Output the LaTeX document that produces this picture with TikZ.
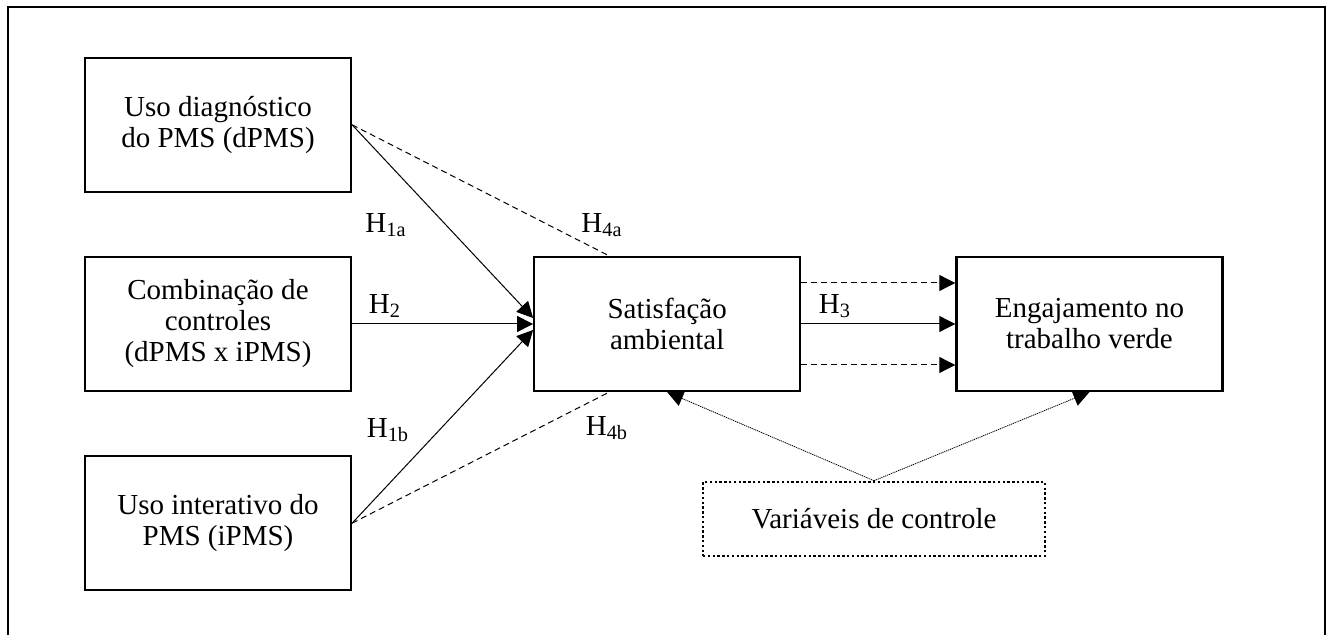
\documentclass[tikz,border=0pt]{standalone}
\usepackage{fontspec}
\setmainfont{Liberation Serif}
\usetikzlibrary{positioning, arrows.meta}

\begin{document}
\begin{tikzpicture}[
    x=0.5pt, y=-0.5pt,
    >={Triangle[length=8pt, width=8pt]},
    font=\fontsize{14.5}{15.5}\selectfont,
    node distance=31.5pt and 90.5pt,
    construct/.style={draw, line width=1.1pt, minimum width=133pt, minimum height=67pt, align=center, inner sep=0pt},
    hyp/.style={->, line width=0.5pt},
    hypdash/.style={line width=0.5pt, dash pattern=on 3pt off 2pt},
    ctrl/.style={->, line width=0.4pt, dash pattern=on 0.6pt off 0.4pt},
    hlabel/.style={inner sep=0pt}
]
    \useasboundingbox (0,0) rectangle (1326,635);

    % --- FRAME ---
    \draw[line width=1pt] (8,635) -- (8,7) -- (1325,7) -- (1325,635);

    % --- CONSTRUCTS ---
    \node[construct] (comb) at (218,324) {Combinação de\\controles\\(dPMS x iPMS)};
    \node[construct, above=of comb] (dpms) {Uso diagnóstico\\do PMS (dPMS)};
    \node[construct, below=of comb] (ipms) {Uso interativo do\\PMS (iPMS)};
    \node[construct, right=of comb] (sat) {Satisfação\\ambiental};
    \node[construct, right=77pt of sat] (eng) {Engajamento no\\trabalho verde};

    \node[draw, line width=1.3pt, dash pattern=on 1.2pt off 1.2pt, minimum width=171pt, minimum height=37pt] (ctrlvars) at (874,519) {Variáveis de controle};

    % --- HYPOTHESES ---
    \draw[hyp] (dpms.east) -- ([yshift=3pt]sat.west);
    \draw[hyp] (comb.east) -- (sat.west);
    \draw[hyp] (ipms.east) -- ([yshift=-3pt]sat.west);
    \draw[hypdash] (dpms.east) -- ([xshift=-29pt]sat.north);
    \draw[hypdash] (ipms.east) -- ([xshift=-29pt]sat.south);

    \draw[hyp] (sat.east) -- (eng.west);
    \draw[hypdash, ->] ([yshift=20.5pt]sat.east) -- ([yshift=20.5pt]eng.west);
    \draw[hypdash, ->] ([yshift=-20.5pt]sat.east) -- ([yshift=-20.5pt]eng.west);

    % Control variables
    \draw[ctrl] (ctrlvars.north) -- (sat.south);
    \draw[ctrl] (ctrlvars.north) -- (eng.south);

    % --- LABELS ---
    \node[hlabel] (h1a) at (386,225) {H\textsubscript{1a}};
    \node[hlabel] (h4a) at (602,225) {H\textsubscript{4a}};
    \node[hlabel] (h2) at (385,306) {H\textsubscript{2}};
    \node[hlabel] (h3) at (835,306) {H\textsubscript{3}};
    \node[hlabel] (h1b) at (388,430) {H\textsubscript{1b}};
    \node[hlabel] (h4b) at (607,428) {H\textsubscript{4b}};

\end{tikzpicture}
\end{document}
